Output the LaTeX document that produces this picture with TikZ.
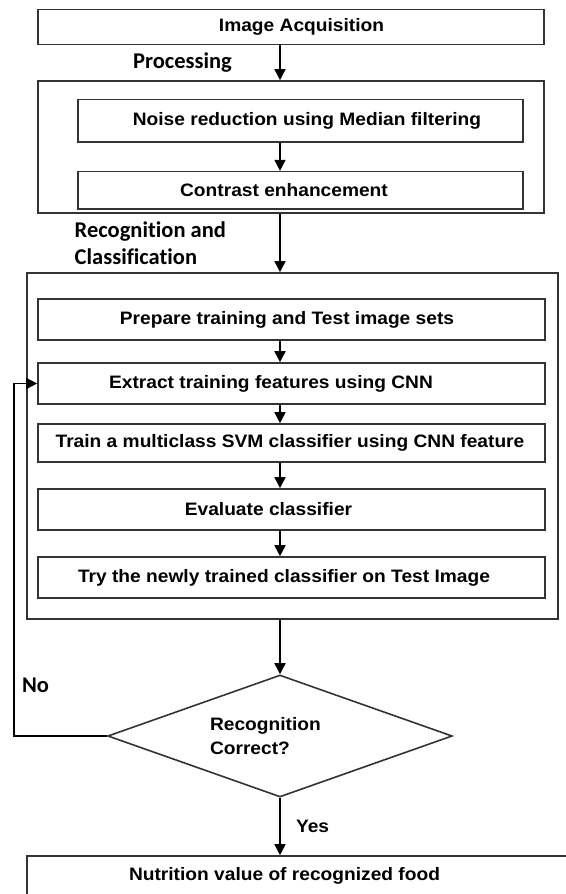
\documentclass[tikz,border=0pt]{standalone}
\usepackage{fontspec}
\setmainfont{Liberation Sans}[FakeStretch=1.065]
\newfontfamily\calfont{Carlito}[Ligatures=NoCommon]
\usetikzlibrary{arrows.meta,shapes.geometric,positioning}

\begin{document}
\begin{tikzpicture}[x=1pt,y=-1pt]
    \tikzstyle{stagebox} = [draw=black!80, line width=1.6pt, rectangle, inner sep=0pt]
    \tikzstyle{stepbox} = [stagebox, font=\fontsize{18}{23.3}\selectfont\bfseries]
    \tikzstyle{decision} = [draw=black!80, line width=1.6pt, diamond, shape aspect=2.8, inner sep=0pt, text width=140pt, align=left, font=\fontsize{18}{23.3}\selectfont\bfseries]
    \tikzstyle{la} = [-{Triangle[length=11pt,width=11pt]}, line width=1.5pt]
    \tikzstyle{tag} = [align=left, font=\calfont\bfseries\fontsize{22.5}{27.5}\selectfont]
    \tikzstyle{lbl} = [font=\fontsize{18}{23.3}\selectfont\bfseries]
    \tikzset{nudge/.style={execute at begin node={\hspace*{#1}}}}
    \useasboundingbox (0,0) rectangle (565,894);
    \coordinate (spine) at (280,0);
    \coordinate (back) at (14,0);
    % acquisition and processing
    \node[stepbox, minimum width=506pt, minimum height=35pt, nudge=21pt] (acq) at (291,26.8) {Image Acquisition};
    \node[stagebox, minimum width=506pt, minimum height=132pt] (proc) at (291,147) {};
    \node[stepbox, minimum width=445pt, minimum height=42.4pt, nudge=13pt] (noise) at (300.5,120.5) {Noise reduction using Median filtering};
    \node[stepbox, minimum width=445pt, minimum height=37.3pt, nudge=-33pt] (contrast) at (300.5,190.3) {Contrast enhancement};
    % recognition and classification
    \node[stagebox, minimum width=531pt, minimum height=346pt] (recog) at (292.5,446) {};
    \node[stepbox, minimum width=507pt, minimum height=41pt, nudge=-9pt] (prep) at (291.5,319.5) {Prepare training and Test image sets};
    \node[stepbox, minimum width=507pt, minimum height=41pt, nudge=-41pt] (extr) at (291.5,383.5) {Extract training features using CNN};
    \node[stepbox, minimum width=507pt, minimum height=38pt, nudge=-3pt] (train) at (291.5,443) {Train a multiclass SVM classifier using CNN feature};
    \node[stepbox, minimum width=507pt, minimum height=41pt, nudge=-46pt] (eval) at (291.5,509.5) {Evaluate classifier};
    \node[stepbox, minimum width=507pt, minimum height=41pt, nudge=-15pt] (try) at (291.5,577.5) {Try the newly trained classifier on Test Image};
    % decision and result
    \node[decision, minimum width=344.5pt, minimum height=122pt] (dec) at (280,736) {Recognition\\Correct?};
    \node[stepbox, minimum width=548pt, minimum height=40pt, nudge=-33pt] (nut) at (301,876) {Nutrition value of recognized food};
    \draw[la] (acq.south -| spine) -- node[tag, left=44pt] {Processing} (proc.north -| spine);
    \draw[la] (noise.south -| spine) -- (contrast.north -| spine);
    \draw[la] (proc.south -| spine) -- node[tag, left=50pt] {Recognition and\\Classification} (recog.north -| spine);
    \foreach \a/\b in {prep/extr, extr/train, train/eval, eval/try}
        \draw[la] (\a.south -| spine) -- (\b.north -| spine);
    \draw[la] (recog.south -| spine) -- (dec.north);
    \draw[la] (dec.south) -- node[lbl, right=12pt] {Yes} (nut.north -| spine);
    \draw[la] (dec.west) -- (dec.west -| back) -- node[tag, pos=0.145, right=4pt] {No} (extr.west -| back) -- (extr.west);
\end{tikzpicture}
\end{document}
